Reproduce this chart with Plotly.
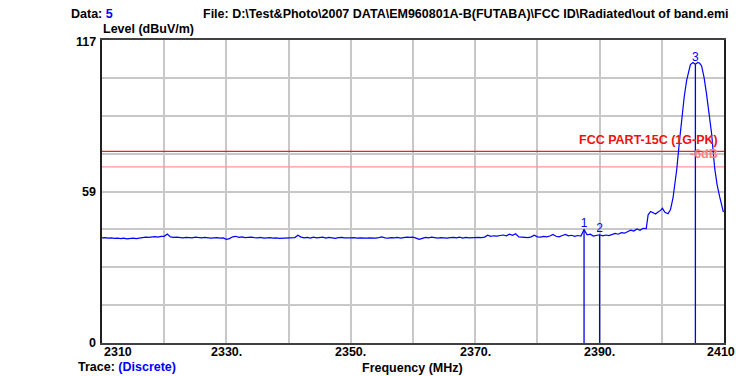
import plotly.graph_objects as go
import numpy as np

# ---------------- data ----------------
BASE_START = 2310.0   # MHz
BASE_STEP = 0.5       # MHz
base_levels = [
    40.6, 40.7, 40.5, 40.6, 40.4, 40.5, 40.3, 40.5, 40.2, 40.4, 40.5, 40.3, 40.6, 40.7, 40.9, 40.8, 41.0, 41.1, 40.9, 41.2,
    41.2, 42.1, 41.0, 40.8, 40.9, 40.7, 40.6, 40.8, 40.7, 40.6, 40.9, 40.7, 40.6, 40.8, 40.6, 40.5, 40.6, 40.7, 40.5, 40.6,
    40.0, 40.3, 41.0, 41.2, 40.8, 41.0, 40.7, 40.8, 40.9, 40.7, 40.6, 40.8, 40.5, 40.6, 40.7, 40.5, 40.6, 40.4, 40.5, 40.6,
    40.5, 40.6, 40.7, 41.6, 40.9, 40.6, 40.8, 40.5, 40.9, 40.6, 40.7, 40.9, 40.5, 40.8, 40.6, 40.4, 40.7, 40.8, 40.6, 40.5,
    40.6, 40.7, 40.5, 40.6, 40.4, 40.5, 40.6, 40.4, 40.5, 40.7, 41.0, 40.6, 40.5, 40.7, 40.6, 40.8, 40.5, 40.7, 40.9, 40.8,
    40.9, 40.5, 40.0, 40.4, 40.8, 40.6, 40.9, 40.7, 40.5, 40.7, 40.6, 40.5, 40.7, 40.8, 40.6, 40.9, 40.5, 40.8, 40.6, 40.7,
    40.6, 40.8, 40.7, 40.9, 41.6, 41.2, 41.4, 41.3, 41.5, 41.7, 41.4, 42.0, 41.6, 42.2, 41.0, 40.9, 40.8, 40.7, 41.0, 41.6,
    41.0, 40.9, 41.2, 41.0, 41.3, 41.9, 41.2, 41.0, 41.5, 41.9, 41.4, 41.6, 41.2, 41.5, 41.3, 43.8, 41.8, 42.0, 41.3, 41.6,
    41.8, 41.4, 41.7, 41.5, 41.9, 42.3, 42.0, 42.6, 42.4, 43.0, 43.6, 43.2, 44.0, 43.5, 44.3,
]
peak_freqs = [2397.5, 2397.8, 2398.2, 2398.6, 2399.0, 2399.4, 2399.8, 2400.1, 2400.5, 2401.0,
              2401.4, 2401.8, 2402.1, 2402.4, 2402.8, 2403.2, 2403.6, 2404.0, 2404.3, 2404.6,
              2405.0, 2405.4, 2405.8, 2406.1, 2406.4, 2406.8, 2407.2, 2407.6, 2408.0, 2408.5,
              2408.9, 2409.3, 2409.6, 2409.9]
peak_levels = [44.2, 49.5, 50.8, 50.2, 49.8, 50.6, 51.2, 52.0, 50.5, 49.9,
               51.5, 56.0, 61.0, 67.0, 77.0, 86.5, 95.0, 101.5, 105.0, 107.5,
               108.3, 107.6, 108.3, 108.0, 107.0, 102.5, 96.0, 88.5, 81.0, 67.5,
               61.0, 56.5, 53.0, 50.5]

marker_labels = ["1", "2", "3"]
marker_freqs = [2387.5, 2390.0, 2405.4]
marker_levels = [43.8, 41.8, 107.6]

limit_names = ["FCC PART-15C (1G-PK)", "-6dB"]
limit_levels = [74.0, 68.0]

x_range = [2310, 2410]
y_range = [0, 117]
xtick_vals = [2310, 2330, 2350, 2370, 2390, 2410]
xtick_text = ["2310", "2330.", "2350.", "2370.", "2390.", "2410"]
ytick_vals = [0, 58.5, 117]
ytick_text = ["0", "59", "117"]

# ---------------- figure ----------------
base_freqs = BASE_START + BASE_STEP * np.arange(len(base_levels))
freqs = list(base_freqs) + peak_freqs
levels = base_levels + peak_levels

FONT = "Liberation Sans, Arial, sans-serif"
FS = 12.5
W, H = 736, 376
L, R, T, B = 102, 10, 40, 33
PW, PH = W - L - R, H - T - B

def px(x):
    return (x - L) / PW

def py(y):
    return (H - B - y) / PH

fig = go.Figure()

# limit lines
limit_colors = ["#F02020", "#FF9494"]
for name, lv, col in zip(limit_names, limit_levels, limit_colors):
    fig.add_trace(go.Scatter(x=x_range, y=[lv, lv], mode="lines",
                             line=dict(color=col, width=1.2), hoverinfo="skip",
                             showlegend=False))

# trace
fig.add_trace(go.Scatter(x=freqs, y=levels, mode="lines",
                         line=dict(color="#0000FF", width=1.2),
                         showlegend=False))

# marker lines
for f, lv in zip(marker_freqs, marker_levels):
    fig.add_trace(go.Scatter(x=[f, f], y=[y_range[0], lv], mode="lines",
                             line=dict(color="#0000EE", width=1.3),
                             showlegend=False, hoverinfo="skip"))
# marker labels
fig.add_trace(go.Scatter(x=marker_freqs, y=marker_levels, mode="text",
                         text=marker_labels, textposition="top center",
                         textfont=dict(family=FONT, size=12, color="#0000FF"),
                         showlegend=False, cliponaxis=False))

ann = []
# limit labels
label_cols = ["#F01010", "#FF8080"]
for name, lv, col, ys in zip(limit_names, limit_levels, label_cols, [2, 4]):
    ann.append(dict(x=px(722), xref="paper", y=lv, yref="y", text="<b>%s</b>" % name,
                    xanchor="right", yanchor="bottom", yshift=ys, showarrow=False,
                    font=dict(family=FONT, size=FS, color=col)))

# x tick labels
for v, t in zip(xtick_vals, xtick_text):
    if v == xtick_vals[0]:
        xa, sh = "left", 0
    elif v == xtick_vals[-1]:
        xa, sh = "center", -3
    else:
        xa, sh = "center", 0
    ann.append(dict(x=v, xref="x", y=py(352), yref="paper", text="<b>%s</b>" % t,
                    xanchor=xa, yanchor="middle", xshift=sh, showarrow=False,
                    font=dict(family=FONT, size=FS, color="#000000")))
# y tick labels
for v, t in zip(ytick_vals, ytick_text):
    ann.append(dict(x=px(98), xref="paper", y=v, yref="y", text="<b>%s</b>" % t,
                    xanchor="right", yanchor="middle", showarrow=False,
                    yshift=-2 if v == ytick_vals[-1] else 0,
                    font=dict(family=FONT, size=FS, color="#000000")))

# header / axis titles
ann.append(dict(x=px(69), xref="paper", y=py(14.5), yref="paper",
                text="<b>Data: <span style='color:#0000FF'>5</span></b>",
                xanchor="left", yanchor="middle", showarrow=False,
                font=dict(family=FONT, size=FS, color="#000000")))
ann.append(dict(x=px(201), xref="paper", y=py(14.5), yref="paper",
                text=r"<b>File: D:\Test&amp;Photo\2007 DATA\EM960801A-B(FUTABA)\FCC ID\Radiated\out of band.emi</b>",
                xanchor="left", yanchor="middle", showarrow=False,
                font=dict(family=FONT, size=FS, color="#000000")))
ann.append(dict(x=px(101), xref="paper", y=py(29.5), yref="paper",
                text="<b>Level (dBuV/m)</b>",
                xanchor="left", yanchor="middle", showarrow=False,
                font=dict(family=FONT, size=FS, color="#000000")))
ann.append(dict(x=px(413), xref="paper", y=py(368), yref="paper",
                text="<b>Frequency (MHz)</b>",
                xanchor="center", yanchor="middle", showarrow=False,
                font=dict(family=FONT, size=FS, color="#000000")))
ann.append(dict(x=px(76), xref="paper", y=py(376), yref="paper",
                text="<b>Trace: <span style='color:#0000FF'>(Discrete)</span></b>",
                xanchor="left", yanchor="bottom", showarrow=False,
                font=dict(family=FONT, size=FS, color="#000000")))

fig.update_layout(
    width=W, height=H,
    margin=dict(l=L, r=R, t=T, b=B, pad=0),
    paper_bgcolor="white", plot_bgcolor="white",
    showlegend=False,
    annotations=ann,
    xaxis=dict(range=x_range, tick0=2310, dtick=10, showticklabels=False, ticks="",
               showgrid=True, gridcolor="#C8C8C8", gridwidth=1.5, zeroline=False,
               showline=True, linecolor="#404040", linewidth=2, mirror=True),
    yaxis=dict(range=y_range, tick0=0, dtick=117 / 8, showticklabels=False, ticks="",
               showgrid=True, gridcolor="#C8C8C8", gridwidth=1.5, zeroline=False,
               showline=True, linecolor="#202020", linewidth=2, mirror=True),
)

fig.write_html("out.html")
